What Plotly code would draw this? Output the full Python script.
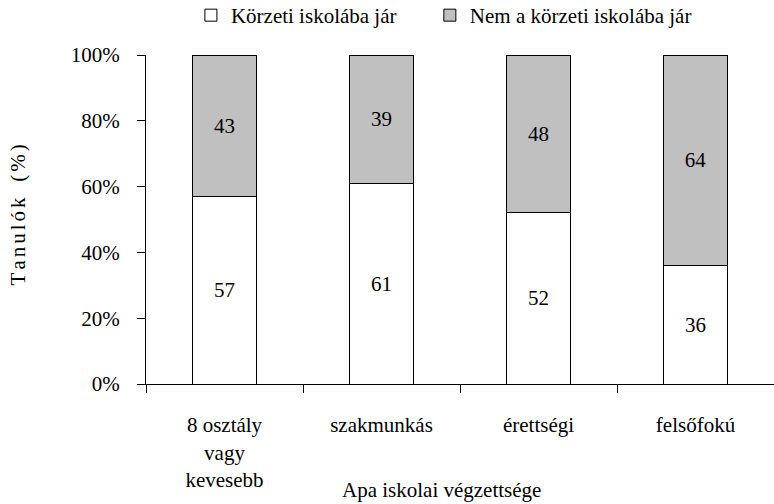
import plotly.graph_objects as go

categories = ["8 osztály<br>vagy<br>kevesebb", "szakmunkás", "érettségi", "felsőfokú"]
korzeti = [57, 61, 52, 36]
nem_korzeti = [43, 39, 48, 64]
series_names = ["Körzeti iskolába jár", "Nem a körzeti iskolába jár"]
y_ticks = [0, 20, 40, 60, 80, 100]
y_tick_labels = [f"{v}%" for v in y_ticks]
y_title = "Tanulók (%)"
x_title = "Apa iskolai végzettsége"

FONT = "Liberation Serif"
SIZE = 21

# spaced-out y title (letters separated by small spaces)
small_sp = '<span style="font-size:12px">\u00a0</span>'
word1, word2 = y_title.split(" ")
y_title_html = small_sp.join(word1) + "\u00a0\u00a0\u00a0" + small_sp.join(word2)

fig = go.Figure()
fig.add_trace(go.Bar(
    x=categories, y=korzeti, name=series_names[0], legend="legend",
    marker=dict(color="white", line=dict(color="black", width=1)),
    text=[str(v) for v in korzeti], textposition="inside", insidetextanchor="middle",
    textfont=dict(family=FONT, size=SIZE, color="black"), width=0.41, cliponaxis=False,
))
fig.add_trace(go.Bar(
    x=categories, y=nem_korzeti, name=series_names[1], legend="legend2",
    marker=dict(color="#C0C0C0", line=dict(color="black", width=1)),
    text=[str(v) for v in nem_korzeti], textposition="inside", insidetextanchor="middle",
    textfont=dict(family=FONT, size=SIZE, color="black"), width=0.41, cliponaxis=False,
))

legend_common = dict(orientation="h", yanchor="middle", y=1.12, xanchor="left",
                     font=dict(family=FONT, size=SIZE), itemwidth=30,
                     bgcolor="rgba(0,0,0,0)")
fig.update_layout(
    barmode="stack",
    width=774, height=504,
    margin=dict(l=146, r=0, t=55, b=120, autoexpand=False),
    paper_bgcolor="white", plot_bgcolor="white",
    font=dict(family=FONT, size=SIZE, color="black"),
    showlegend=True,
    legend=dict(x=0.0715, **legend_common),
    legend2=dict(x=0.452, **legend_common),
)
fig.update_xaxes(
    type="category", showline=True, linecolor="black", linewidth=1,
    ticks="outside", ticklen=8, tickcolor="black", tickson="boundaries",
    showgrid=False, tickfont=dict(family=FONT, size=SIZE), range=[-0.5, 3.5],
    automargin=False, ticklabelstandoff=22,
)
fig.update_yaxes(
    range=[0, 100], tickmode="array", tickvals=y_ticks, ticktext=y_tick_labels,
    showline=True, linecolor="black", linewidth=1,
    ticks="outside", ticklen=8, tickcolor="black",
    showgrid=False, zeroline=False, tickfont=dict(family=FONT, size=SIZE),
    automargin=False, ticklabelstandoff=13,
)
fig.add_annotation(
    text=y_title_html,
    textangle=-90, xref="paper", yref="paper", x=-0.204, y=0.515,
    xanchor="center", yanchor="middle", showarrow=False, font=dict(family=FONT, size=SIZE),
)
fig.add_annotation(
    text=x_title, xref="paper", yref="paper", x=0.47, y=-0.322,
    xanchor="center", yanchor="middle", showarrow=False, font=dict(family=FONT, size=SIZE),
)
fig.write_html("out.html", config={"displayModeBar": False},
               post_script="document.body.style.margin='0';")
